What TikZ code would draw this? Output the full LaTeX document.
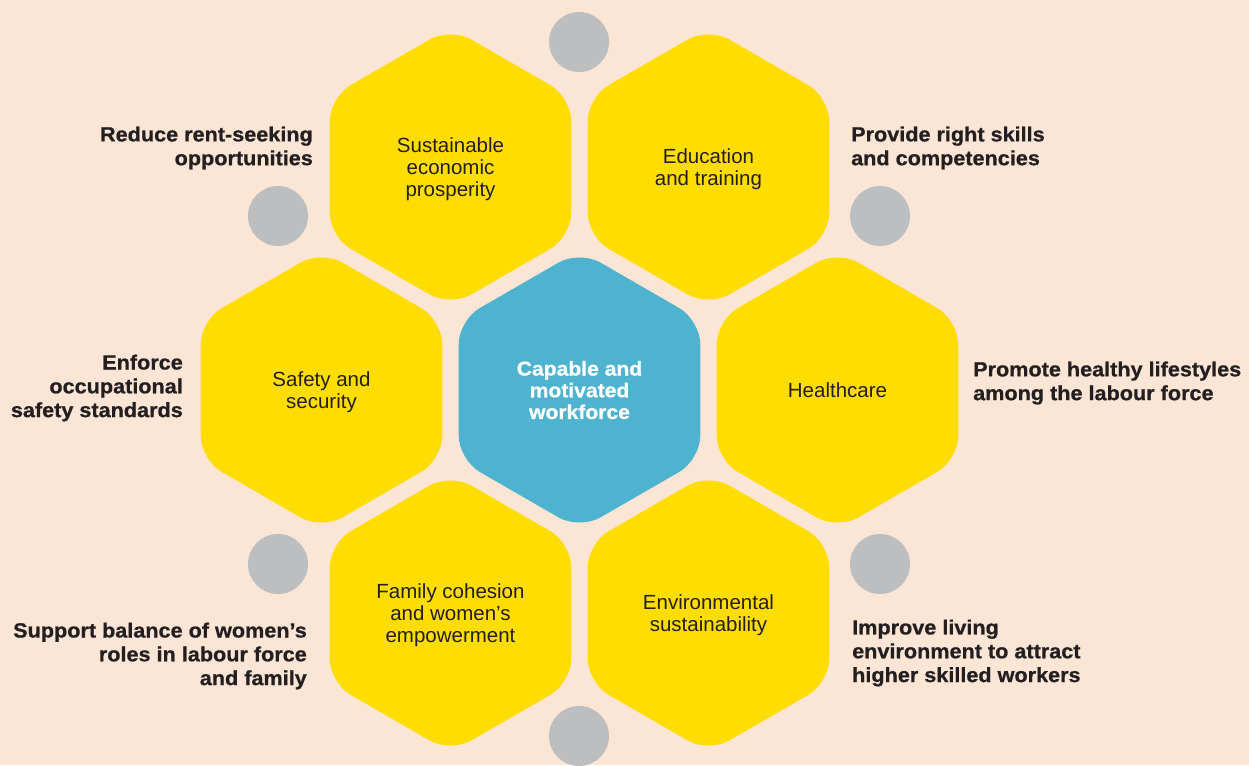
\documentclass[tikz,border=0pt]{standalone}
\usepackage{fontspec}
\setmainfont{Liberation Sans}
\newfontfamily\heavyfont[UprightFont=* Bold,FakeStretch=1.055,FakeBold=0.8]{Liberation Sans}
\usetikzlibrary{shapes.geometric}
\definecolor{peach}{HTML}{FBE5D5}
\definecolor{hexyellow}{HTML}{FFDD00}
\definecolor{hexblue}{HTML}{4DB3CF}
\definecolor{dotgrey}{HTML}{BCBEC0}
\definecolor{inkdark}{HTML}{231F20}
\tikzset{
  hexbox/.style={regular polygon,regular polygon sides=6,shape border rotate=30,minimum size=279pt,inner sep=0pt,text depth=0pt,rounded corners=24pt,fill=hexyellow,text=inkdark,align=center,font=\fontsize{20.5}{21.7}\selectfont},
  corebox/.style={hexbox,fill=hexblue,text=white,font=\fontsize{20}{21.7}\heavyfont},
  greydot/.style={circle,fill=dotgrey,minimum size=60pt,inner sep=0pt},
  aim/.style={inner sep=0pt,text=inkdark,font=\fontsize{20.5}{23.8}\heavyfont}
}

\begin{document}
\begin{tikzpicture}[x=1pt,y=-1pt]
\fill[peach] (0,0) rectangle (1249,765);
\useasboundingbox (0,0) rectangle (1249,765);
% honeycomb
\node[corebox] (core) at (579.5,390) {Capable and\\motivated\\workforce};
\node[hexbox] (economy) at (450.5,167) {Sustainable\\economic\\prosperity};
\node[hexbox] (education) at (708.5,167) {Education\\and training};
\node[hexbox] (safety) at (321.5,390) {Safety and\\security};
\node[hexbox] (health) at (837.5,390) {Healthcare};
\node[hexbox] (family) at (450.5,613) {Family cohesion\\and women’s\\empowerment};
\node[hexbox] (environment) at (708.5,613) {Environmental\\sustainability};
% grey dots
\node[greydot] (dottop) at (579,42) {};
\node[greydot] (dotnw) at (278,216) {};
\node[greydot] (dotne) at (880,216) {};
\node[greydot] (dotsw) at (278,564) {};
\node[greydot] (dotse) at (880,564) {};
\node[greydot] (dotbottom) at (579,736) {};
% aims
\node[aim,anchor=east,align=right] (rentseeking) at (313,148) {Reduce rent-seeking\\opportunities};
\node[aim,anchor=west,align=left] (skills) at (851,148) {Provide right skills\\and competencies};
\node[aim,anchor=east,align=right] (osh) at (183,388) {Enforce\\occupational\\safety standards};
\node[aim,anchor=west,align=left] (lifestyles) at (973,383) {Promote healthy lifestyles\\among the labour force};
\node[aim,anchor=east,align=right] (balance) at (307,656) {Support balance of women’s\\roles in labour force\\and family};
\node[aim,anchor=west,align=left] (living) at (852,653) {Improve living\\environment to attract\\higher skilled workers};
\end{tikzpicture}
\end{document}
